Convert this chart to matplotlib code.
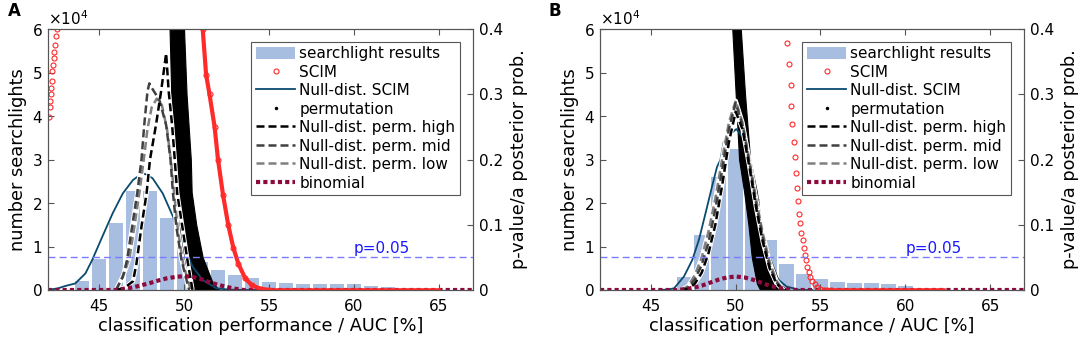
import matplotlib
matplotlib.use("Agg")
import matplotlib.pyplot as plt
from matplotlib.lines import Line2D
from matplotlib.patches import Patch
from matplotlib.ticker import ScalarFormatter, FuncFormatter, MultipleLocator

plt.rcParams['font.family'] = ['DejaVu Sans']

# ---------------- Panel A data ----------------
bins_A = [44, 45, 46, 47, 48, 49, 50, 51, 52, 53, 54, 55, 56, 57, 58, 59, 60, 61, 62]
hist_A = [2100, 7100, 15300, 22800, 22800, 16500, 11000, 6400, 4500, 3400, 2700, 1900,
          1500, 1300, 1300, 1300, 1300, 1000, 600]

scim_null_x_A = [42.0, 42.6, 43.0, 43.6, 44.2, 44.6, 45.2, 45.8, 46.4, 47.0, 47.4, 47.7,
                 48.15, 48.75, 49.35, 49.95, 50.5, 51.1, 51.9, 52.6, 53.5, 54.5]
scim_null_y_A = [0, 400, 900, 1500, 3800, 6900, 12300, 17600, 22200, 25300, 26400, 26700,
                 25700, 22200, 16900, 10700, 5400, 2300, 400, 100, 0, 0]

scim_x_A = [51.0, 51.1, 51.3, 51.5, 51.8, 52.0, 52.3, 52.6, 52.9, 53.2, 53.6, 54.0, 54.5, 55.0]
scim_p_A = [0.42, 0.40, 0.33, 0.30, 0.25, 0.20, 0.145, 0.10, 0.065, 0.04, 0.018, 0.007, 0.002, 0.0]
scim_tail_A = [55.0, 65.0]
scim_low_x_A = [42.05, 42.1, 42.12, 42.15, 42.2, 42.22, 42.25, 42.3, 42.33, 42.37, 42.4, 42.45, 42.5]
scim_low_p_A = [0.265, 0.28, 0.29, 0.30, 0.31, 0.32, 0.335, 0.345, 0.355, 0.365, 0.375, 0.39, 0.40]

perm_p_A = [0.42, 0.40, 0.30, 0.20, 0.15, 0.10, 0.05, 0.01, 0.0]
perm_left_A = [49.12, 49.15, 49.25, 49.35, 49.4, 49.63, 49.85, 50.2, 50.5]
perm_right_A = [49.98, 50.0, 50.15, 50.4, 50.45, 50.72, 51.1, 51.7, 52.1]

high_x_A = [46.0, 46.5, 47.0, 47.2, 47.5, 47.8, 48.0, 48.35, 48.65, 48.95, 49.1, 49.3, 49.45,
            49.6, 49.9, 50.2, 50.5]
high_y_A = [0, 500, 2000, 6000, 14600, 22300, 30000, 37900, 45600, 54400, 45600, 37900,
            30300, 22300, 14600, 6900, 0]
mid_x_A = [46.0, 46.4, 46.65, 46.95, 47.25, 47.5, 47.66, 47.85, 47.96, 48.1, 48.55, 48.95,
           49.2, 49.35, 49.55, 49.85, 50.3]
mid_y_A = [0, 3000, 6900, 14600, 22300, 30000, 37900, 45600, 47500, 46500, 43700, 37900,
           30300, 22300, 14600, 6900, 0]
low_x_A = [46.0, 46.5, 46.8, 47.1, 47.4, 47.65, 47.85, 48.1, 48.4, 48.7, 49.0, 49.25, 49.45,
           49.65, 49.95, 50.4]
low_y_A = [0, 4000, 7500, 15000, 23000, 30500, 37000, 42000, 44000, 42500, 37000, 29000,
           21000, 13500, 6000, 0]

binom_x_A = [42.0, 46.0, 46.5, 47.0, 47.5, 48.0, 48.5, 49.0, 49.5, 50.0, 50.5, 51.0, 51.5,
             52.0, 52.5, 53.0, 53.5, 67.0]
binom_y_A = [0, 0, 300, 600, 1100, 1600, 2200, 2700, 3000, 3200, 3000, 2500, 1800, 1200,
             700, 300, 0, 0]

# ---------------- Panel B data ----------------
bins_B = [47, 48, 49, 50, 51, 52, 53, 54, 55, 56, 57, 58, 59, 60]
hist_B = [3100, 12600, 26000, 32500, 21000, 11500, 5900, 3700, 2500, 1800, 1700, 1500,
          1400, 900]

scim_null_x_B = [45.5, 46.0, 46.37, 46.95, 47.44, 47.83, 48.22, 48.6, 48.9, 49.1, 49.3, 49.6,
                 50.04, 50.47, 50.76, 51.05, 51.34, 51.64, 52.03, 52.42, 53.0, 53.8, 54.5]
scim_null_y_B = [0, 100, 400, 3100, 6900, 11500, 17600, 23700, 28300, 29900, 34100, 35600,
                 37000, 34900, 30500, 23700, 17600, 11500, 6100, 2700, 800, 0, 0]

scim_x_B = [53.04, 53.14, 53.24, 53.29, 53.35, 53.43, 53.47, 53.53, 53.59, 53.67, 53.75,
            53.82, 53.88, 53.94, 54.02, 54.08, 54.14, 54.22, 54.31, 54.41, 54.51, 54.65,
            54.8, 55.0, 55.2, 55.4, 55.6]
scim_p_B = [0.378, 0.346, 0.314, 0.282, 0.255, 0.227, 0.204, 0.179, 0.157, 0.137, 0.117,
            0.102, 0.088, 0.077, 0.064, 0.054, 0.046, 0.036, 0.028, 0.020, 0.014, 0.009,
            0.005, 0.002, 0.0005, 0.0, 0.0]
scim_tail_B = [55.2, 62.3]

perm_p_B = [0.42, 0.40, 0.30, 0.20, 0.15, 0.10, 0.05, 0.01, 0.0]
perm_left_B = [49.78, 49.8, 50.0, 50.2, 50.5, 50.75, 50.95, 51.25, 51.45]
perm_right_B = [50.28, 50.3, 50.55, 50.85, 51.25, 51.5, 52.0, 52.6, 53.0]

perm_x_B = [46.8, 47.2, 47.6, 48.0, 48.4, 48.8, 49.2, 49.6, 50.0, 50.4, 50.8, 51.2, 51.6,
            52.0, 52.4, 52.8]
high_y_B = [0, 200, 1500, 4000, 8500, 15000, 24000, 34000, 41000, 37000, 28500, 19000,
            11000, 5000, 1500, 0]
mid_y_B = [0, 500, 2500, 5800, 11000, 18500, 27500, 37000, 43000, 38000, 29500, 20000,
           12000, 5500, 1800, 0]
low_y_B = [0, 900, 3500, 7500, 13500, 21000, 30000, 38500, 43500, 38500, 30000, 21000,
           13000, 6500, 2200, 0]

binom_x_B = [42.0, 46.5, 47.0, 47.5, 48.0, 48.5, 49.0, 49.5, 50.0, 50.5, 51.0, 51.5, 52.0,
             52.5, 53.0, 53.5, 67.0]
binom_y_B = [0, 0, 200, 500, 1000, 1700, 2400, 2900, 3100, 2900, 2400, 1700, 1000, 500,
             200, 0, 0]

p_threshold = 0.05
xticks = [45, 50, 55, 60, 65]
legend_labels = ['searchlight results', 'SCIM', 'Null-dist. SCIM', 'permutation',
                 'Null-dist. perm. high', 'Null-dist. perm. mid', 'Null-dist. perm. low',
                 'binomial']

# ---------------- styles ----------------
BAR_C = '#a8bee0'
NULL_C = '#0b4a6f'
RED = '#ff2a2a'
MAROON = '#8c0a3c'
PLINE = '#7b7bff'
PTEXT = '#1a1aff'
FRAME = '#555555'
HIGH_C, MID_C, LOW_C = '#000000', '#404040', '#808080'
DASH = (0, (3.2, 1.6))
DOT = (0, (1.0, 0.75))
TICK_FS = 11
LABEL_FS = 12.8
LEG_FS = 11


def dashed(ax, x, y, color):
    ax.plot(x, y, color='white', lw=3.2, zorder=4, solid_capstyle='butt')
    ax.plot(x, y, color=color, lw=1.8, ls=DASH, zorder=4.1)


def panel(ax, bins, hist, nx, ny, sx, sp, dense, tail, lowx, lowp, pp, pl, pr,
          hx, hy, mx, my, lx, ly, bx, by):
    ax2 = ax.twinx()
    ax.set_xlim(42, 67)
    ax.set_ylim(0, 60000)
    ax2.set_ylim(0, 0.4)
    T = ax2.transData

    ax.bar(bins, hist, width=0.88, color=BAR_C, edgecolor='none', zorder=1)
    ax.fill_betweenx(pp, pl, pr, color='black', lw=0.8, edgecolor='black',
                     transform=T, zorder=2)
    ax.plot(nx, ny, color=NULL_C, lw=1.3, zorder=3)
    dashed(ax, lx, ly, LOW_C)
    dashed(ax, mx, my, MID_C)
    dashed(ax, hx, hy, HIGH_C)
    ax.plot(bx, by, color=MAROON, lw=3.0, ls=DOT, dash_capstyle='butt', zorder=4.5)
    ax.plot(tail, [0, 0], color=RED, lw=2.6, transform=T, zorder=5)
    if dense:
        ax.plot(sx, sp, color=RED, lw=3.0, transform=T, zorder=5)
    ax.plot(sx, sp, ls='none', marker='o', ms=3.6, mfc='none', mec=RED, mew=0.8,
            transform=T, zorder=5)
    if lowx:
        ax.plot(lowx, lowp, ls='none', marker='o', ms=3.6, mfc='none', mec=RED, mew=0.8,
                transform=T, zorder=5)
    ax.plot([42, 67], [p_threshold, p_threshold], color=PLINE, lw=1.0, ls=(0, (5, 3)),
            transform=T, zorder=6)
    ax.text(60, p_threshold + 0.002, 'p=0.05', color=PTEXT, fontsize=TICK_FS,
            transform=T, va='bottom', ha='left', zorder=6)

    ax.set_xlim(42, 67)
    ax.set_ylim(0, 60000)
    ax2.set_ylim(0, 0.4)
    ax.set_xticks(xticks)
    ax.yaxis.set_major_locator(MultipleLocator(10000))
    fmt = ScalarFormatter(useMathText=True)
    fmt.set_powerlimits((0, 0))
    ax.yaxis.set_major_formatter(fmt)
    ax.yaxis.get_offset_text().set_fontsize(TICK_FS)
    ax2.set_yticks([0, 0.1, 0.2, 0.3, 0.4])
    ax2.yaxis.set_major_formatter(FuncFormatter(lambda v, p: f'{v:g}'))

    for a in (ax, ax2):
        for s in a.spines.values():
            s.set_color(FRAME)
            s.set_linewidth(0.8)
    ax.tick_params(direction='in', length=4, top=True, right=False, labelsize=TICK_FS,
                   color=FRAME)
    ax.tick_params(axis='x', pad=6.5)
    ax.tick_params(axis='y', pad=4)
    ax2.tick_params(direction='in', length=4, labelsize=TICK_FS, color=FRAME, pad=4)
    ax.set_xlabel('classification performance / AUC [%]', fontsize=LABEL_FS, labelpad=2)
    ax.set_ylabel('number searchlights', fontsize=LABEL_FS, labelpad=3)
    ax2.set_ylabel('p-value/a posterior prob.', fontsize=LABEL_FS, labelpad=5)

    handles = [
        Patch(facecolor=BAR_C, edgecolor='none'),
        Line2D([], [], ls='none', marker='o', ms=3.6, mfc='none', mec=RED, mew=0.8),
        Line2D([], [], color=NULL_C, lw=1.3),
        Line2D([], [], ls='none', marker='.', ms=3, color='black'),
        Line2D([], [], color=HIGH_C, lw=1.8, ls=DASH),
        Line2D([], [], color=MID_C, lw=1.8, ls=DASH),
        Line2D([], [], color=LOW_C, lw=1.8, ls=DASH),
        Line2D([], [], color=MAROON, lw=3.0, ls=DOT, dash_capstyle='butt'),
    ]
    leg = ax.legend(handles, legend_labels, loc='upper right',
                    bbox_to_anchor=(0.969, 0.952), fontsize=LEG_FS, frameon=True,
                    fancybox=False, edgecolor=FRAME, framealpha=1, handlelength=2.6,
                    handleheight=0.9, labelspacing=0.23, borderpad=0.3,
                    handletextpad=0.25, borderaxespad=0)
    leg.get_frame().set_linewidth(0.8)
    leg.set_zorder(10)
    return ax2


fig = plt.figure(figsize=(10.84, 3.45), dpi=100)
axA = fig.add_axes([48 / 1084, 55 / 345, 425 / 1084, 261 / 345])
axB = fig.add_axes([600 / 1084, 55 / 345, 424 / 1084, 261 / 345])

panel(axA, bins_A, hist_A, scim_null_x_A, scim_null_y_A, scim_x_A, scim_p_A, True,
      scim_tail_A, scim_low_x_A, scim_low_p_A, perm_p_A, perm_left_A, perm_right_A,
      high_x_A, high_y_A, mid_x_A, mid_y_A, low_x_A, low_y_A, binom_x_A, binom_y_A)
panel(axB, bins_B, hist_B, scim_null_x_B, scim_null_y_B, scim_x_B, scim_p_B, False,
      scim_tail_B, None, None, perm_p_B, perm_left_B, perm_right_B,
      perm_x_B, high_y_B, perm_x_B, mid_y_B, perm_x_B, low_y_B, binom_x_B, binom_y_B)

fig.text(8 / 1084, 1 - 11 / 345, 'A', fontsize=12, fontweight='bold', va='center')
fig.text(548 / 1084, 1 - 11 / 345, 'B', fontsize=12, fontweight='bold', va='center')

fig.savefig('out.png', dpi=100)
